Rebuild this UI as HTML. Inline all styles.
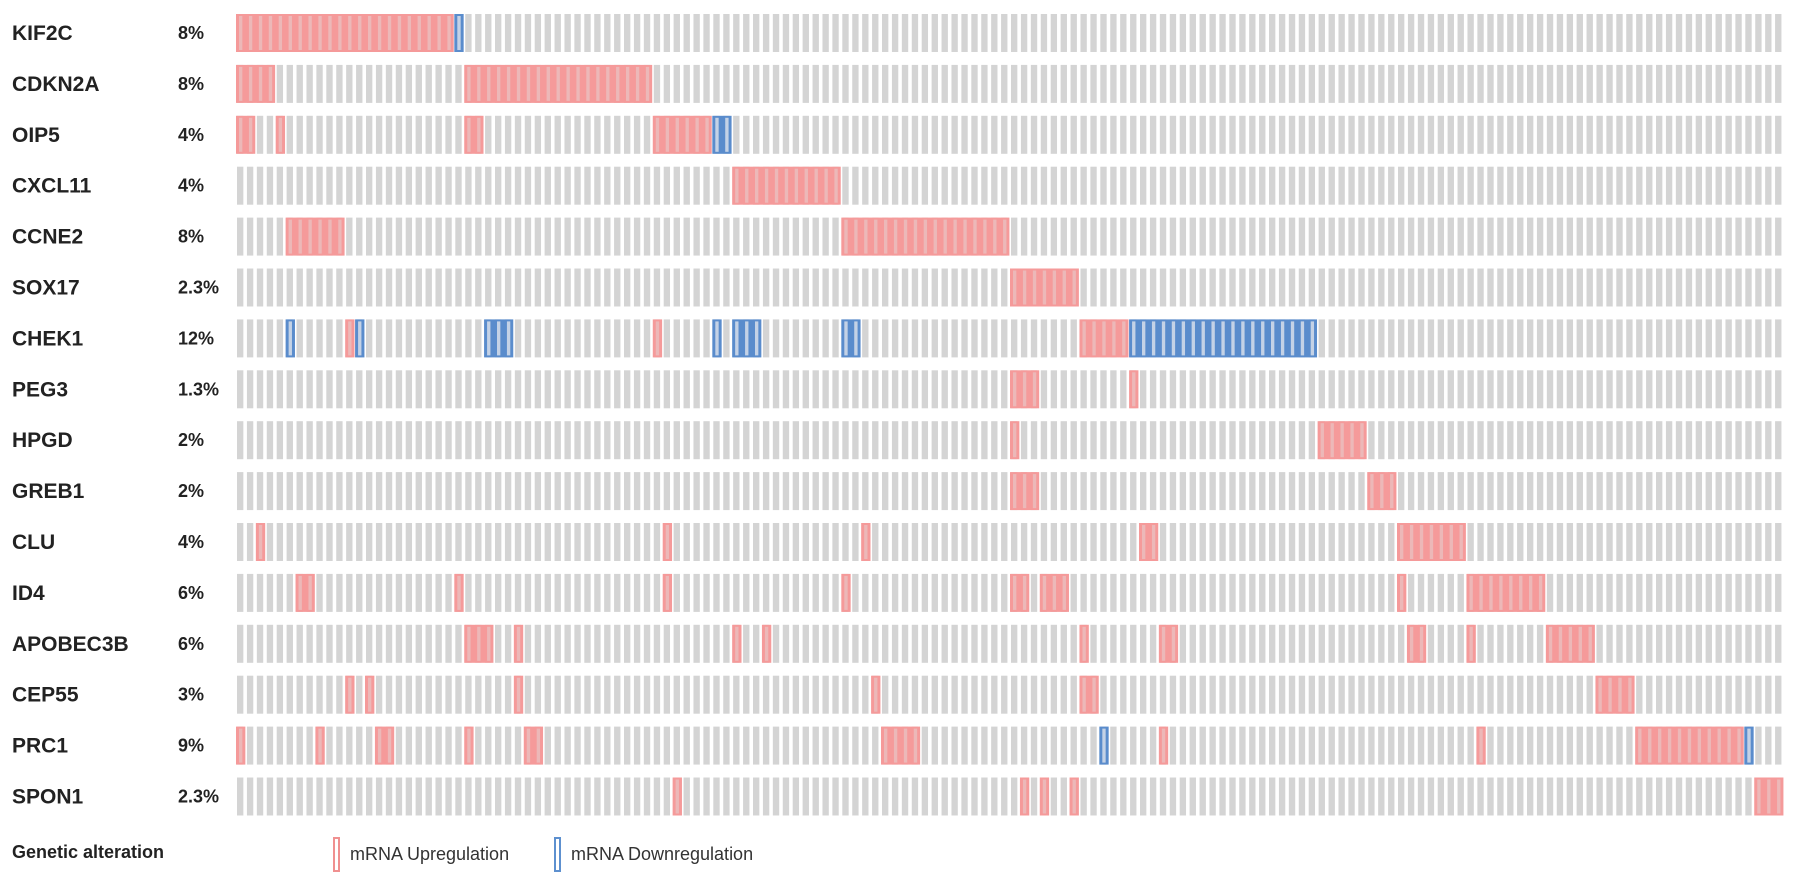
<!DOCTYPE html>
<html><head><meta charset="utf-8"><style>
body{margin:0;background:#fff;width:1795px;height:879px;overflow:hidden;font-family:"Liberation Sans",Arial,sans-serif}
</style></head><body>
<svg id="c" width="1795" height="879" xmlns="http://www.w3.org/2000/svg"></svg>
<script>
const genes=["KIF2C","CDKN2A","OIP5","CXCL11","CCNE2","SOX17","CHEK1","PEG3","HPGD","GREB1","CLU","ID4","APOBEC3B","CEP55","PRC1","SPON1"];
const pcts=["8%","8%","4%","4%","8%","2.3%","12%","1.3%","2%","2%","4%","6%","6%","3%","9%","2.3%"];
const nCases=156;
const alterations=[
 [[0,21,"u"],[22,22,"d"]],
 [[0,3,"u"],[23,41,"u"]],
 [[0,1,"u"],[4,4,"u"],[23,24,"u"],[42,47,"u"],[48,49,"d"]],
 [[50,60,"u"]],
 [[5,10,"u"],[61,77,"u"]],
 [[78,84,"u"]],
 [[5,5,"d"],[11,11,"u"],[12,12,"d"],[25,27,"d"],[42,42,"u"],[48,48,"d"],[50,52,"d"],[61,62,"d"],[85,89,"u"],[90,108,"d"]],
 [[78,80,"u"],[90,90,"u"]],
 [[78,78,"u"],[109,113,"u"]],
 [[78,80,"u"],[114,116,"u"]],
 [[2,2,"u"],[43,43,"u"],[63,63,"u"],[91,92,"u"],[117,123,"u"]],
 [[6,7,"u"],[22,22,"u"],[43,43,"u"],[61,61,"u"],[78,79,"u"],[81,83,"u"],[117,117,"u"],[124,131,"u"]],
 [[23,25,"u"],[28,28,"u"],[50,50,"u"],[53,53,"u"],[85,85,"u"],[93,94,"u"],[118,119,"u"],[124,124,"u"],[132,136,"u"]],
 [[11,11,"u"],[13,13,"u"],[28,28,"u"],[64,64,"u"],[85,86,"u"],[137,140,"u"]],
 [[0,0,"u"],[8,8,"u"],[14,15,"u"],[23,23,"u"],[29,30,"u"],[65,68,"u"],[87,87,"d"],[93,93,"u"],[125,125,"u"],[141,151,"u"],[152,152,"d"]],
 [[44,44,"u"],[79,79,"u"],[81,81,"u"],[84,84,"u"],[153,155,"u"]]
];
const svg=document.getElementById('c');const NS="http://www.w3.org/2000/svg";
const x0=237,x1=1785,pitch=(x1-x0)/nCases,bw=pitch*0.64,y0=14,rowP=50.9,rh=38;
const X=i=>x0+i*pitch, Y=r=>y0+r*rowP;
function el(t,a,txt){const e=document.createElementNS(NS,t);for(const k in a)e.setAttribute(k,a[k]);if(txt!==undefined)e.textContent=txt;svg.appendChild(e);return e;}
const col={u:["#f59a9a","#ecb8b8"],d:["#5a8ccc","#c4d2e6"]};
genes.forEach((g,r)=>{
 const t=el('text',{x:12,y:Y(r)+rh/2+7,'font-size':21,'font-weight':'bold',fill:'#222'},g);
 
 
 const p=el('text',{x:178,y:Y(r)+rh/2+6,'font-size':18,'font-weight':'bold',fill:'#222'},pcts[r]);
 
 
 for(let i=0;i<nCases;i++){
  const b=el('rect',{x:X(i),y:Y(r),width:bw,height:rh,fill:'#d4d4d4'});
  
  
 }
 alterations[r].forEach(([s,e,tp])=>{
  const c=col[tp];
  const a=el('rect',{x:X(s)-1,y:Y(r),width:X(e)+bw+1-(X(s)-1)+1,height:rh,fill:c[0]});
  
  
  for(let i=s;i<=e;i++){
   el('rect',{x:X(i)+2,y:Y(r)+2,width:bw-3,height:rh-4,fill:c[1]});
  }
 });
});
const lg=el('text',{x:12,y:858,'font-size':18,'font-weight':'bold',fill:'#222'},'Genetic alteration');


const u=el('rect',{x:334,y:838,width:5,height:33,fill:'none',stroke:'#f09090','stroke-width':2});


const ut=el('text',{x:350,y:860,'font-size':18,fill:'#333'},'mRNA Upregulation');


const d=el('rect',{x:555,y:838,width:5,height:33,fill:'none',stroke:'#5d90cf','stroke-width':2});


const dt=el('text',{x:571,y:860,'font-size':18,fill:'#333'},'mRNA Downregulation');


</script>
</body></html>
